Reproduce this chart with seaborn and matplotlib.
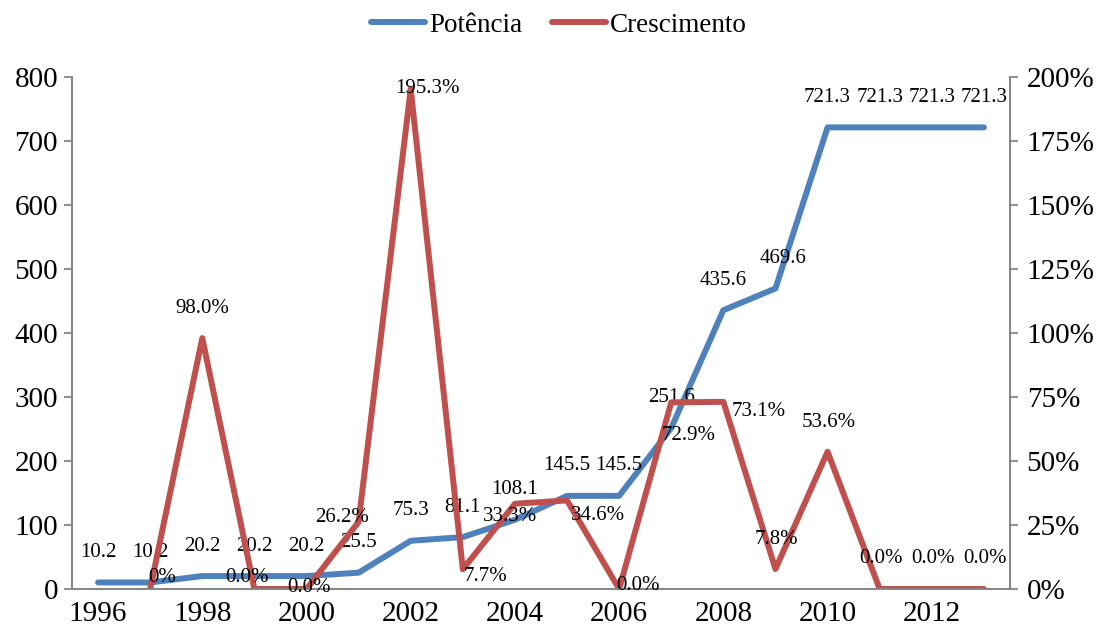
import matplotlib
matplotlib.use('Agg')
import matplotlib.pyplot as plt
from matplotlib.ticker import MultipleLocator, FixedLocator, FuncFormatter
import seaborn as sns
import pandas as pd

anos = list(range(1996, 2014))
potencia = [10.2, 10.2, 20.2, 20.2, 20.2, 25.5, 75.3, 81.1, 108.1, 145.5,
            145.5, 251.6, 435.6, 469.6, 721.3, 721.3, 721.3, 721.3]
anos_cresc = list(range(1997, 2014))
crescimento = [0.0, 98.0, 0.0, 0.0, 26.2, 195.3, 7.7, 33.3, 34.6, 0.0,
               72.9, 73.1, 7.8, 53.6, 0.0, 0.0, 0.0]

# label offsets in pixels (dx, dy), like the hand placed excel labels
off_pot = [(0, 30)] * 13 + [(8, 30)] + [(0, 30)] * 4
off_cresc = [(12, 11), (0, 30), (-7, 11), (3, 1), (-17, 4), (17, 1), (23, -7),
             (-5, -13), (31, -15), (19, 3), (17, -33), (35, -10), (1, 30),
             (1, 29), (1, 30), (1, 30), (1, 30)]

azul = '#4F81BD'
vermelho = '#C0504D'
cinza = '#868686'

sns.set_style('white')
plt.rcParams['font.family'] = ['Liberation Serif', 'DejaVu Serif']
plt.rcParams['text.color'] = 'black'

df_pot = pd.DataFrame({'ano': anos, 'Potência': potencia})
df_cre = pd.DataFrame({'ano': anos_cresc, 'Crescimento': crescimento})

fig = plt.figure(figsize=(10.96, 6.30), dpi=100)
ax = fig.add_axes([0.0657, 0.0651, 0.9215 - 0.0657, 0.8778 - 0.0651])
ax2 = ax.twinx()

sns.lineplot(data=df_pot, x='ano', y='Potência', ax=ax, color=azul, lw=4.3,
             solid_capstyle='round', label='Potência', legend=False)
sns.lineplot(data=df_cre, x='ano', y='Crescimento', ax=ax2, color=vermelho, lw=4.3,
             solid_capstyle='round', label='Crescimento', legend=False)

ax.set_xlim(1995.5, 2013.5)
ax.set_ylim(0, 800)
ax2.set_ylim(0, 200)
ax.yaxis.set_major_locator(MultipleLocator(100))
ax2.yaxis.set_major_locator(MultipleLocator(25))
ax2.yaxis.set_major_formatter(FuncFormatter(lambda v, _: f'{v:.0f}%'))
ax.xaxis.set_major_locator(FixedLocator(anos[::2]))
ax.xaxis.set_minor_locator(FixedLocator([a - 0.5 for a in anos] + [2013.5]))
ax.set_xlabel('')
ax.set_ylabel('')
ax2.set_ylabel('')

for a in (ax, ax2):
    for s in a.spines.values():
        s.set_color(cinza)
        s.set_linewidth(1.3)
    a.spines['top'].set_visible(False)
    a.tick_params(axis='both', which='both', colors=cinza, labelcolor='black',
                  labelsize=21, direction='out', length=6, width=1.3)
ax.tick_params(axis='x', which='major', length=0, pad=9)
ax.tick_params(axis='y', pad=4)
ax2.tick_params(axis='y', pad=6)
ax.grid(False)
ax2.grid(False)

for x, y, (dx, dy) in zip(anos, potencia, off_pot):
    ax.annotate(f'{y:.1f}', (x, y), xytext=(dx, dy), textcoords='offset pixels',
                ha='center', va='center', fontsize=15, zorder=5)
for i, (x, y, (dx, dy)) in enumerate(zip(anos_cresc, crescimento, off_cresc)):
    txt = '0%' if i == 0 else f'{y:.1f}%'
    ax2.annotate(txt, (x, y), xytext=(dx, dy), textcoords='offset pixels',
                 ha='center', va='center', fontsize=15, zorder=5)

h1, l1 = ax.get_legend_handles_labels()
h2, l2 = ax2.get_legend_handles_labels()
fig.legend(h1 + h2, l1 + l2, loc='center', bbox_to_anchor=(0.51, 0.96), ncol=2,
           frameon=False, fontsize=19.5, handlelength=2.0, handletextpad=0.15,
           columnspacing=1.1)

fig.savefig('out.png', dpi=100)
